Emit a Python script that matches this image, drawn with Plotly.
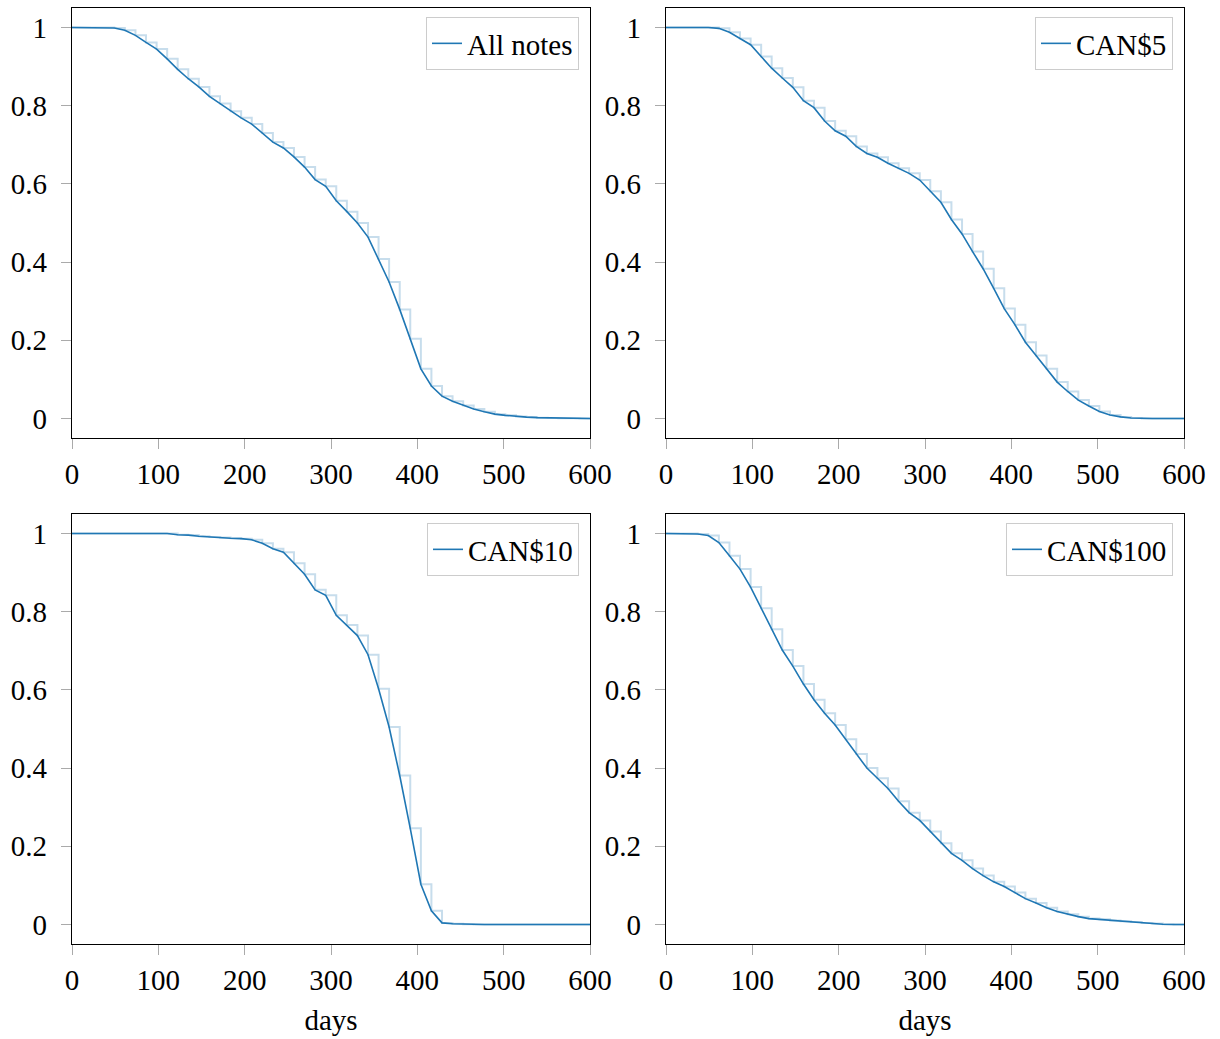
import plotly.graph_objects as go

# Time grid (days) of the survival estimates
days = [0.0, 12.2, 24.5, 36.7, 49.0, 61.2, 73.5, 85.7, 98.0, 110.2, 122.4, 134.7, 146.9,
        159.2, 171.4, 183.7, 195.9, 208.2, 220.4, 232.7, 244.9, 257.1, 269.4, 281.6, 293.9,
        306.1, 318.4, 330.6, 342.9, 355.1, 367.3, 379.6, 391.8, 404.1, 416.3, 428.6, 440.8,
        453.1, 465.3, 477.6, 489.8, 502.0, 514.3, 526.5, 538.8, 551.0, 563.3, 575.5, 587.8, 600.0]

all_notes = [1.0, 1.0, 1.0, 1.0, 0.999, 0.993, 0.980, 0.962, 0.945, 0.920, 0.893, 0.869, 0.848,
             0.824, 0.806, 0.786, 0.769, 0.753, 0.730, 0.707, 0.692, 0.669, 0.643, 0.611, 0.594,
             0.557, 0.529, 0.500, 0.464, 0.408, 0.349, 0.279, 0.204, 0.127, 0.083, 0.057, 0.044,
             0.033, 0.024, 0.017, 0.011, 0.008, 0.005, 0.0035, 0.002, 0.0013, 0.0008, 0.0004, 0.0002, 0.0]

can5 = [1.0, 1.0, 1.0, 1.0, 1.0, 0.998, 0.988, 0.972, 0.956, 0.926, 0.896, 0.871, 0.847,
        0.813, 0.795, 0.761, 0.736, 0.722, 0.696, 0.678, 0.668, 0.653, 0.640, 0.627, 0.610,
        0.581, 0.553, 0.509, 0.472, 0.427, 0.383, 0.333, 0.281, 0.240, 0.195, 0.161, 0.127,
        0.093, 0.069, 0.047, 0.032, 0.018, 0.009, 0.004, 0.001, 0.0, 0.0, 0.0, 0.0, 0.0]

can10 = [1.0, 1.0, 1.0, 1.0, 1.0, 1.0, 1.0, 1.0, 1.0, 1.0, 0.997, 0.996, 0.993,
         0.991, 0.990, 0.988, 0.987, 0.984, 0.975, 0.961, 0.952, 0.924, 0.896, 0.856, 0.842,
         0.791, 0.766, 0.739, 0.690, 0.603, 0.505, 0.381, 0.246, 0.103, 0.035, 0.004, 0.0017,
         0.0005, 0.0, 0.0, 0.0, 0.0, 0.0, 0.0, 0.0, 0.0, 0.0, 0.0, 0.0, 0.0]

can100 = [1.0, 1.0, 1.0, 0.999, 0.995, 0.977, 0.943, 0.909, 0.863, 0.809, 0.755, 0.702, 0.661,
          0.615, 0.575, 0.540, 0.510, 0.474, 0.436, 0.400, 0.374, 0.348, 0.315, 0.286, 0.266,
          0.238, 0.208, 0.182, 0.164, 0.143, 0.125, 0.109, 0.097, 0.082, 0.066, 0.055, 0.043,
          0.033, 0.026, 0.020, 0.015, 0.013, 0.010, 0.008, 0.006, 0.004, 0.0025, 0.0004, 0.0, 0.0]

series_names = ["All notes", "CAN$5", "CAN$10", "CAN$100"]
series_values = [all_notes, can5, can10, can100]

x_ticks = [0, 100, 200, 300, 400, 500, 600]
y_ticks = [0, 0.2, 0.4, 0.6, 0.8, 1]
y_tick_labels = ["0", "0.2", "0.4", "0.6", "0.8", "1"]

W, H = 1220, 1039
LINE = "#1f77b4"
STEP = "rgba(31,119,180,0.25)"
FONT = "Liberation Serif"
FS = 29

# pixel frames of the four panels: (left, right, top, bottom)
frames = [(72, 590, 8, 438), (666, 1184, 8, 438), (72, 590, 514, 944), (666, 1184, 514, 944)]

fig = go.Figure()
layout = dict(
    width=W, height=H, margin=dict(l=0, r=0, t=0, b=0, autoexpand=False),
    paper_bgcolor="white", plot_bgcolor="white",
    font=dict(family=FONT, size=FS, color="black"),
    showlegend=True,
)

for i, (name, vals) in enumerate(zip(series_names, series_values)):
    n = i + 1
    xa = "x" if n == 1 else f"x{n}"
    ya = "y" if n == 1 else f"y{n}"
    lg = "legend" if n == 1 else f"legend{n}"
    fig.add_trace(go.Scatter(x=days, y=vals, mode="lines", line=dict(shape="hv", color=STEP, width=2),
                             xaxis=xa, yaxis=ya, showlegend=False, hoverinfo="skip"))
    fig.add_trace(go.Scatter(x=days, y=vals, mode="lines", name=name, line=dict(color=LINE, width=1.6),
                             xaxis=xa, yaxis=ya, legend=lg))
    l, r, t, b = frames[i]
    xkey = "xaxis" if n == 1 else f"xaxis{n}"
    ykey = "yaxis" if n == 1 else f"yaxis{n}"
    layout[xkey] = dict(
        domain=[l / W, r / W], anchor=ya, range=[0, 600], tickvals=x_ticks, automargin=False,
        showgrid=False, zeroline=False, showline=True, linecolor="black", linewidth=1.3, mirror=True,
        ticks="outside", ticklen=10, tickcolor="#aaaaaa", tickwidth=1.3,
        tickfont=dict(family=FONT, size=FS), ticklabelstandoff=0,
        title=dict(text="days" if n > 2 else "", font=dict(family=FONT, size=FS), standoff=14),
    )
    layout[ykey] = dict(
        domain=[1 - b / H, 1 - t / H], anchor=xa, range=[-0.05, 1.05], automargin=False,
        tickvals=y_ticks, ticktext=y_tick_labels,
        showgrid=False, zeroline=False, showline=True, linecolor="black", linewidth=1.3, mirror=True,
        ticks="outside", ticklen=10, tickcolor="#aaaaaa", tickwidth=1.3,
        tickfont=dict(family=FONT, size=FS), ticklabelstandoff=8,
    )
    layout[lg] = dict(
        x=(r - 11) / W, y=1 - (t + 9) / H, xanchor="right", yanchor="top",
        xref="paper", yref="paper",
        bgcolor="white", bordercolor="#cccccc", borderwidth=1,
        font=dict(family=FONT, size=FS), itemwidth=30,
    )

fig.update_layout(**layout)
fig.write_html("out.html")
